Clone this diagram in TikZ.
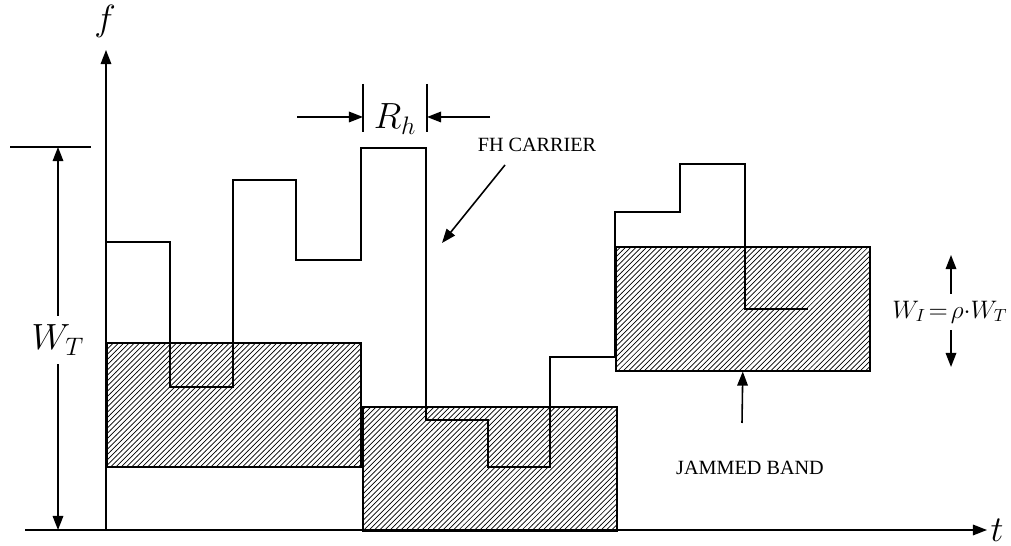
\documentclass[tikz,border=0pt]{standalone}
\usepackage{fontspec}
\setmainfont{Liberation Serif}
\usetikzlibrary{arrows.meta,patterns,positioning}

\tikzset{
  arr/.style={line width=0.9pt, -{Triangle[length=8pt,width=6pt]}},
  thin line/.style={line width=0.9pt},
  jam/.style={draw, line width=0.9pt, pattern=north east lines,
    minimum width=5.08cm, minimum height=2.48cm, inner sep=0pt, anchor=north west},
  lbl/.style={font=\fontsize{11.5}{13}\selectfont},
  sym/.style={font=\fontsize{20}{24}\selectfont},
}

\begin{document}
\begin{tikzpicture}[x=0.02cm,y=-0.02cm]
    \useasboundingbox (0,0) rectangle (1011,546);

    % Axes
    \coordinate (orig) at (106,530);
    \coordinate (ftop) at (106,50);
    \coordinate (tleft) at (25,530);
    \coordinate (tright) at (987,530);
    \draw[arr] (orig) -- (ftop);
    \draw[arr] (tleft) -- (tright);
    \node[sym] (flabel) at (105,21) {$f$};
    \node[sym, inner sep=0pt] (tlabel) at (997,530) {$t$};

    % Jammed bands
    \foreach \x/\y/\n in {106/342/a, 362/406/b, 615/246/c} {
        \node[jam] (band\n) at (\x,\y) {};
    }

    % FH carrier
    \draw[thin line] (106,242) -| (170,387) -| (233,180) -| (296,260) -| (361,148)
        -| (426,420) -| (488,467) -| (550,357) -| (615,212) -| (680,164)
        -| (745,309) -- (808,309);

    % Hop duration
    \draw[thin line] (363,84) -- (363,132);
    \draw[thin line] (427,84) -- (427,132);
    \coordinate (rhl) at (363,117);
    \coordinate (rhr) at (427,117);
    \draw[arr] (297,117) -- (rhl);
    \draw[arr] (490,117) -- (rhr);
    \node[sym] (rh) at (395,119) {$R_h$};

    % Total bandwidth
    \draw[thin line] (10,147) -- (91,147);
    \coordinate (wtop) at (58,147);
    \coordinate (wbot) at (58,530);
    \node[sym, inner sep=5pt] (wt) at (58,340) {$W_T$};
    \draw[arr] (wt) -- (wtop);
    \draw[arr] (wt) -- (wbot);

    % Jammed bandwidth
    \coordinate (wiup) at (951,255);
    \coordinate (widown) at (951,367);
    \node[font=\fontsize{14.5}{17}\selectfont, inner sep=4pt] (wi) at (950,312)
        {$W_I\mskip2mu{=}\mskip2mu\rho{\cdot}W_T$};
    \draw[arr] (wi.north -| wiup) -- (wiup);
    \draw[arr] (wi.south -| widown) -- (widown);

    % Labels
    \node[lbl] (fh) at (537,145) {FH CARRIER};
    \coordinate (fhtail) at (505,165);
    \coordinate (fhtip) at (442,243);
    \draw[arr] (fhtail) -- (fhtip);

    \node[lbl] (jb) at (750,468) {JAMMED BAND};
    \coordinate (jbtail) at (742,423);
    \draw[arr] (jbtail) -- (bandc.south);
\end{tikzpicture}
\end{document}
